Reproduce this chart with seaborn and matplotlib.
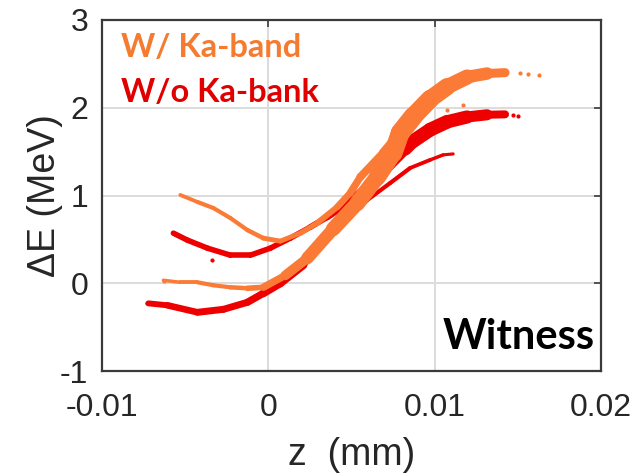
import matplotlib
matplotlib.use("Agg")
import matplotlib.pyplot as plt
import seaborn as sns

# Longitudinal phase space of the witness bunch: centre lines of the particle
# bands (z in mm, dE in MeV) with the local band thickness in points.

# With Ka-band linearizer
orange_upper_z = [-0.00529, -0.00426, -0.0033, -0.00228, -0.00126, -0.0003, 0.00072,
                  0.00192, 0.00294, 0.00414, 0.00492, 0.00553, 0.00691, 0.00793]
orange_upper_dE = [1.006, 0.926, 0.857, 0.743, 0.606, 0.514, 0.48,
                   0.571, 0.686, 0.869, 1.029, 1.211, 1.486, 1.714]
orange_upper_w = [2.5, 3, 3, 3, 3, 3.5, 3.5, 3.5, 4, 4.5, 5, 5.5, 6, 7]

orange_lower_z = [-0.00631, -0.00529, -0.00426, -0.0033, -0.00228, -0.00126, -0.0003,
                  0.00102, 0.00234, 0.0039, 0.00535, 0.00655, 0.00751, 0.00793]
orange_lower_dE = [0.034, 0.011, 0.011, -0.023, -0.046, -0.057, -0.046,
                   0.09, 0.286, 0.62, 0.914, 1.211, 1.486, 1.714]
orange_lower_w = [2.5, 2.5, 3, 3, 3, 3.5, 4.5, 6, 8, 10, 11, 12, 13, 14]

orange_top_z = [0.00793, 0.00871, 0.00973, 0.01075, 0.01195, 0.01315, 0.01423]
orange_top_dE = [1.714, 1.90, 2.10, 2.24, 2.35, 2.39, 2.40]
orange_top_w = [14, 13.5, 13, 12, 10, 8, 5]

orange_dots_z = [0.0151, 0.01562, 0.01628, 0.01075, 0.01171, -0.0063]
orange_dots_dE = [2.40, 2.39, 2.37, 1.98, 2.03, 0.03]

# Without Ka-band linearizer
red_upper_z = [-0.00571, -0.00486, -0.00366, -0.00228, -0.00108, 0.00012, 0.00132, 0.00252,
               0.00354, 0.00462, 0.00583, 0.00703, 0.00823, 0.00871, 0.00973, 0.01075,
               0.01195, 0.01315, 0.01423]
red_upper_dE = [0.571, 0.491, 0.40, 0.32, 0.32, 0.40, 0.514, 0.64,
                0.754, 0.891, 1.086, 1.30, 1.53, 1.62, 1.75, 1.84,
                1.895, 1.92, 1.925]
red_upper_w = [4, 4, 4, 4, 4, 4, 4, 4, 4.5, 5, 6, 7, 9, 10, 10, 10, 9, 7, 4.5]

red_lower_z = [-0.00721, -0.00607, -0.00426, -0.0027, -0.00126, -0.0003, 0.00072, 0.0021,
               0.00294, 0.0045, 0.00595, 0.00733, 0.00853, 0.00973, 0.01051, 0.01111]
red_lower_dE = [-0.229, -0.251, -0.331, -0.297, -0.217, -0.114, 0.0, 0.206,
                0.44, 0.72, 0.949, 1.143, 1.314, 1.406, 1.463, 1.474]
red_lower_w = [4, 4.5, 5, 5, 5, 5.5, 6, 5.5, 4.5, 3.5, 3, 3, 3, 2.5, 2.5, 2]

red_dots_z = [0.01471, 0.01502, -0.00336, -0.0073]
red_dots_dE = [1.92, 1.91, 0.27, -0.22]

x_ticks = [-0.01, 0, 0.01, 0.02]
x_tick_labels = ["-0.01", "0", "0.01", "0.02"]
y_ticks = [-1, 0, 1, 2, 3]
y_tick_labels = ["-1", "0", "1", "2", "3"]

ORANGE = "#FB7A36"
RED = "#EE0000"
ORANGE_TXT = "#F47B30"
RED_TXT = "#E00000"

sns.set_style("whitegrid")
plt.rcParams["font.family"] = ["Liberation Sans", "DejaVu Sans"]

fig = plt.figure(figsize=(6.36, 4.75), dpi=100)
ax = fig.add_axes([0.1604, 0.2189, 0.7846, 0.739])


def band(z, dE, w, color):
    """Draw a particle band as a centre line whose thickness follows w."""
    for i in range(len(z) - 1):
        sns.lineplot(x=z[i:i + 2], y=dE[i:i + 2], color=color,
                     linewidth=(w[i] + w[i + 1]) / 2, solid_capstyle="round",
                     sort=False, estimator=None, ax=ax, zorder=3)


band(red_lower_z, red_lower_dE, red_lower_w, RED)
band(red_upper_z, red_upper_dE, red_upper_w, RED)
sns.scatterplot(x=red_dots_z, y=red_dots_dE, color=RED, s=9, linewidth=0,
                ax=ax, zorder=3)

band(orange_lower_z, orange_lower_dE, orange_lower_w, ORANGE)
band(orange_upper_z, orange_upper_dE, orange_upper_w, ORANGE)
band(orange_top_z, orange_top_dE, orange_top_w, ORANGE)
sns.scatterplot(x=orange_dots_z, y=orange_dots_dE, color=ORANGE, s=9, linewidth=0,
                ax=ax, zorder=4)

ax.set_xlim(-0.01, 0.02)
ax.set_ylim(-1, 3)
ax.set_xticks(x_ticks)
ax.set_xticklabels(x_tick_labels)
ax.set_yticks(y_ticks)
ax.set_yticklabels(y_tick_labels)
ax.grid(True, color="#DCDCDC", linewidth=1.4)
ax.set_axisbelow(True)
for s in ax.spines.values():
    s.set_color("#3A3A3A")
    s.set_linewidth(1.6)
ax.tick_params(axis="both", which="both", direction="in", length=5, width=1.2,
               color="#3A3A3A", top=True, right=True, labelsize=23,
               labelcolor="#262626")
ax.tick_params(axis="x", pad=16)
ax.tick_params(axis="y", pad=10)

ax.set_xlabel("z  (mm)", fontsize=27, color="#262626", labelpad=10)
ax.set_ylabel("ΔE (MeV)", fontsize=27, color="#262626", labelpad=-2)

ax.text(0.038, 0.8946, "W/ Ka-band", transform=ax.transAxes, fontfamily="Lato",
        fontweight="bold", fontsize=23.5, color=ORANGE_TXT, va="baseline", ha="left")
ax.text(0.038, 0.766, "W/o Ka-bank", transform=ax.transAxes, fontfamily="Lato",
        fontweight="bold", fontsize=23.5, color=RED_TXT, va="baseline", ha="left")
ax.text(0.988, 0.0627, "Witness", transform=ax.transAxes, fontfamily="Lato",
        fontweight="bold", fontsize=30, color="black", va="baseline", ha="right")

fig.savefig("out.png", dpi=100)
